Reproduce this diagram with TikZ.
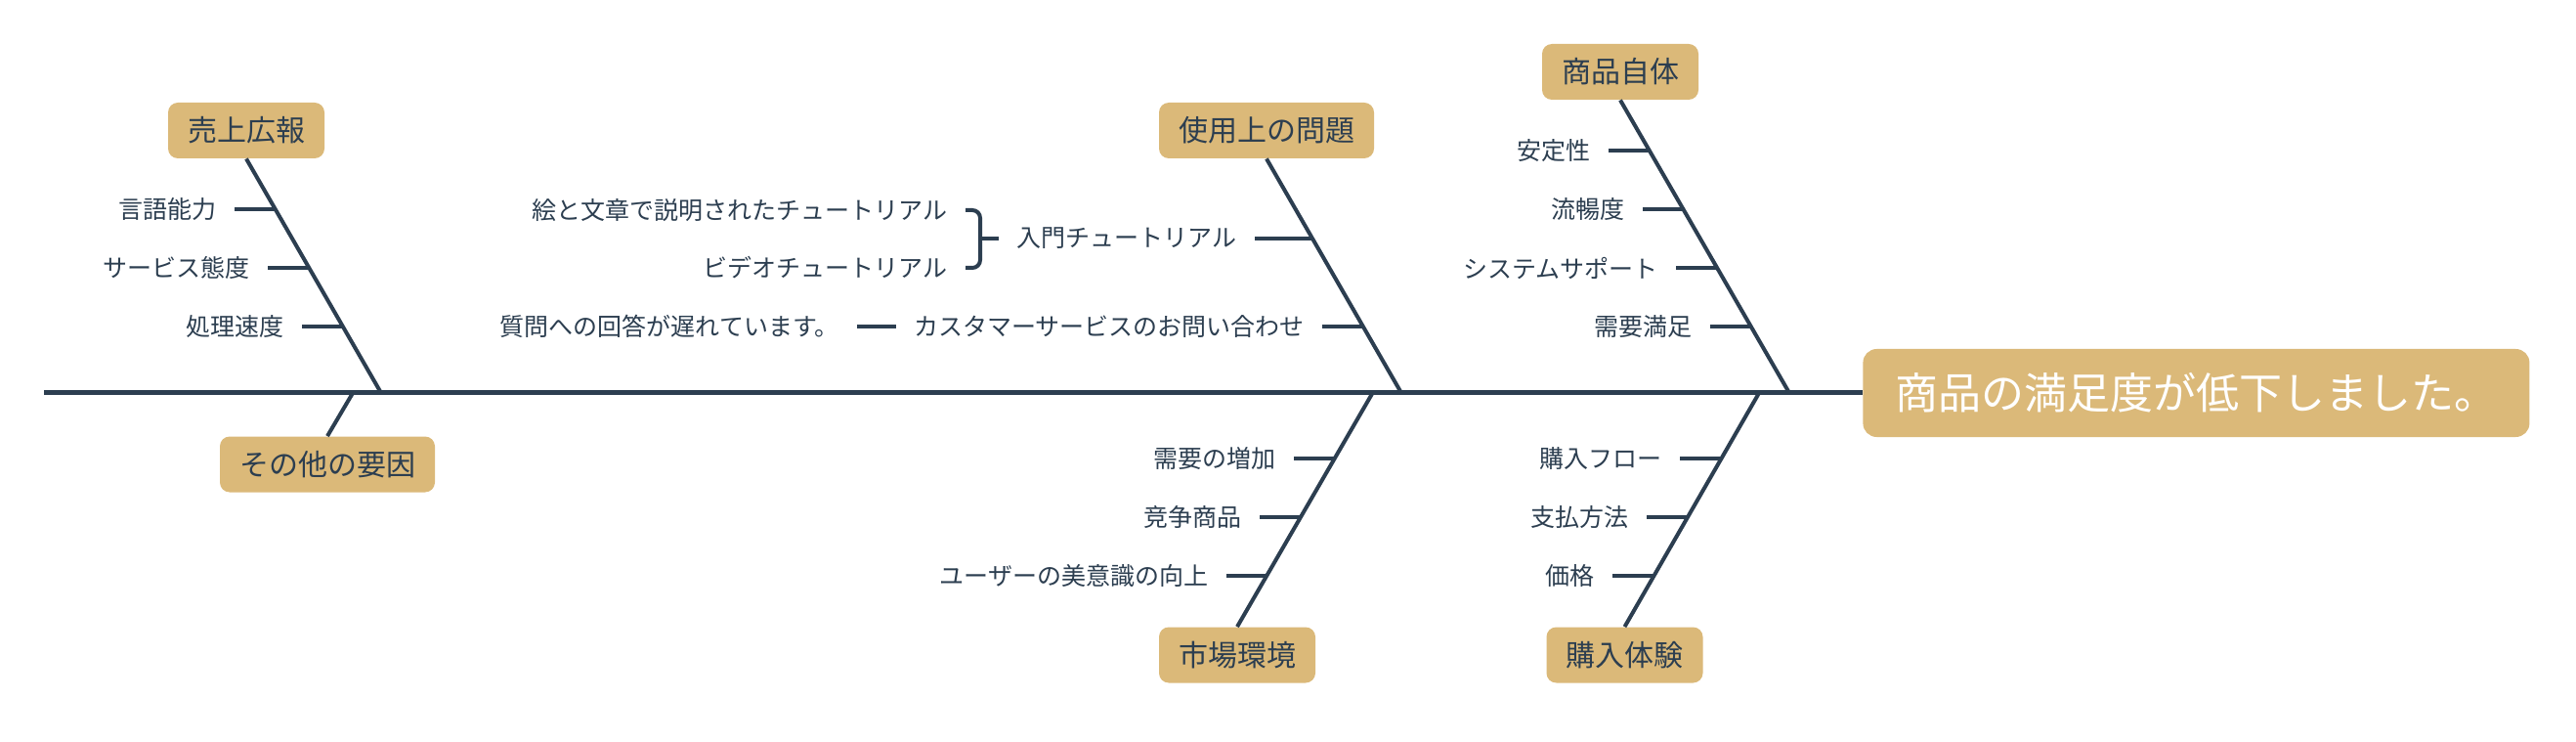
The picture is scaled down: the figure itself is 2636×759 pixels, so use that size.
\documentclass[tikz,border=0pt]{standalone}
\usepackage{fontspec}
\setmainfont{Noto Sans CJK JP}
\usetikzlibrary{positioning}
\definecolor{navy}{RGB}{44,62,80}
\definecolor{sand}{RGB}{219,185,121}
\tikzset{
  spine/.style={navy,line width=2.5pt},
  bone/.style={navy,line width=2pt},
  tick/.style={navy,line width=2pt},
  cat/.style={fill=sand,rounded corners=5pt,text=navy,font=\fontsize{15}{18}\selectfont,
    inner xsep=10pt,inner ysep=0pt,minimum height=28.5pt},
  sub/.style={text=navy,font=\fontsize{12.5}{15}\selectfont,inner xsep=9pt,inner ysep=2pt},
  effect/.style={fill=sand,rounded corners=7pt,text=white,font=\fontsize{22}{26}\selectfont,
    inner xsep=16.5pt,minimum height=45pt},
}

\begin{document}
\begin{tikzpicture}[x=0.5pt,y=-0.5pt]
  \useasboundingbox (0,0) rectangle (2636,759);
  % head and spine
  \node[effect,anchor=west] (eff) at (1906,402) {商品の満足度が低下しました。};
  \coordinate (tail) at (45,402);
  \draw[spine] (tail) -- (eff);

  % cause boxes
  \node[cat] (c1) at (252,133.5) {売上広報};
  \node[cat] (c2) at (1296,133.5) {使用上の問題};
  \node[cat] (c3) at (1658,73.5) {商品自体};
  \node[cat] (c4) at (335,475) {その他の要因};
  \node[cat] (c5) at (1266,670) {市場環境};
  \node[cat] (c6) at (1662.5,670) {購入体験};

  % bones
  \coordinate (j1) at (390,402); \coordinate (j2) at (1434,402);
  \coordinate (j3) at (1831,402); \coordinate (j4) at (361,402);
  \coordinate (j5) at (1404.5,402); \coordinate (j6) at (1800,402);
  \draw[bone] (c1.south) -- (j1);
  \draw[bone] (c2.south) -- (j2);
  \draw[bone] (c3.south) -- (j3);
  \draw[bone] (c4.north) -- (j4);
  \draw[bone] (c5.north) -- (j5);
  \draw[bone] (c6.north) -- (j6);

  % 売上広報
  \coordinate (s11) at (282,214); \coordinate (s12) at (316,274); \coordinate (s13) at (351,334);
  \node[sub,left=21pt of s11] (l11) {言語能力};
  \node[sub,left=21pt of s12] (l12) {サービス態度};
  \node[sub,left=21pt of s13] (l13) {処理速度};
  \draw[tick] (l11) -- (s11);
  \draw[tick] (l12) -- (s12);
  \draw[tick] (l13) -- (s13);

  % 使用上の問題
  \coordinate (s21) at (1343,244); \coordinate (s22) at (1395,334);
  \node[sub,left=29.5pt of s21] (l21) {入門チュートリアル};
  \node[sub,left=21pt of s22] (l22) {カスタマーサービスのお問い合わせ};
  \node[sub,anchor=east] (l211) at (988,215) {絵と文章で説明されたチュートリアル};
  \node[sub,anchor=east] (l212) at (988,274) {ビデオチュートリアル};
  \node[sub,anchor=east] (l23) at (877,334) {質問への回答が遅れています。};
  \coordinate (br) at (1003,244);
  \draw[tick] (l21) -- (s21);
  \draw[tick] (l22) -- (s22);
  \draw[tick] (br) -- (l21);
  \draw[tick,rounded corners=4pt] (l211) -- (br |- l211) -- (br |- l212) -- (l212);
  \draw[tick] (l23) -- (l22);

  % 商品自体
  \coordinate (s31) at (1688,154); \coordinate (s32) at (1723,214);
  \coordinate (s33) at (1757,274); \coordinate (s34) at (1792,334);
  \node[sub,left=21pt of s31] (l31) {安定性};
  \node[sub,left=21pt of s32] (l32) {流暢度};
  \node[sub,left=21pt of s33] (l33) {システムサポート};
  \node[sub,left=21pt of s34] (l34) {需要満足};
  \draw[tick] (l31) -- (s31);
  \draw[tick] (l32) -- (s32);
  \draw[tick] (l33) -- (s33);
  \draw[tick] (l34) -- (s34);

  % 市場環境
  \coordinate (s51) at (1366,469); \coordinate (s52) at (1331,529); \coordinate (s53) at (1296.5,589);
  \node[sub,left=21pt of s51] (l51) {需要の増加};
  \node[sub,left=21pt of s52] (l52) {竞争商品};
  \node[sub,left=21pt of s53] (l53) {ユーザーの美意識の向上};
  \draw[tick] (l51) -- (s51);
  \draw[tick] (l52) -- (s52);
  \draw[tick] (l53) -- (s53);

  % 購入体験
  \coordinate (s61) at (1761,469); \coordinate (s62) at (1727,529); \coordinate (s63) at (1692,589);
  \node[sub,left=21pt of s61] (l61) {購入フロー};
  \node[sub,left=21pt of s62] (l62) {支払方法};
  \node[sub,left=21pt of s63] (l63) {価格};
  \draw[tick] (l61) -- (s61);
  \draw[tick] (l62) -- (s62);
  \draw[tick] (l63) -- (s63);
\end{tikzpicture}
\end{document}
